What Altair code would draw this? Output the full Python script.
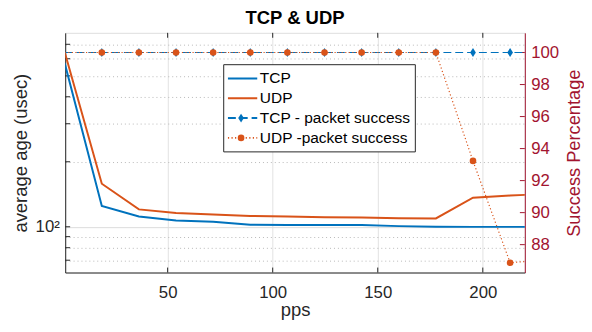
import altair as alt
import pandas as pd

# ---------------- data ----------------
pps = [1.0, 18.67, 36.33, 54.0, 71.67, 89.33, 107.0, 124.67, 142.33, 160.0, 177.67, 195.33, 213.0, 230.67]
tcp_age = [573, 124.7, 111.6, 107.0, 105.4, 102.1, 102.0, 102.0, 101.8, 100.7, 100.1, 99.9, 99.9, 99.9]
udp_age = [645, 158.3, 120.4, 115.9, 113.9, 112.3, 111.6, 110.7, 110.4, 109.6, 109.3, 136.3, 139.5, 142.0]
tcp_success = [100, 100, 100, 100, 100, 100, 100, 100, 100, 100, 100, 100, 100, 100]
udp_success = [100, 100, 100, 100, 100, 100, 100, 100, 100, 100, 100, 93.23, 86.87, 87.05]

x_ticks = [50, 100, 150, 200]
left_ticks = [70, 80, 90, 100, 200, 300, 400, 500, 600, 700]
right_ticks = [88, 90, 92, 94, 96, 98, 100]
legend_labels = ["TCP", "UDP", "TCP - packet success", "UDP -packet success"]
title_text = ["TCP & UDP"]

X_DOMAIN = [1.25, 220]
LEFT_DOMAIN = [61.4, 791]
RIGHT_DOMAIN = [86.26, 101.23]

# ---------------- styling ----------------
W, H = 466, 243
BLUE = "#0072BD"
ORANGE = "#D95319"
RED = "#A2142F"
AXC = "#262626"
FONT = "Liberation Sans"
DIAMOND = "M0,-1L0.65,0L0,1L-0.65,0Z"

df = pd.DataFrame({
    "pps": pps,
    "tcp_age": tcp_age,
    "udp_age": udp_age,
    "tcp_success": tcp_success,
    "udp_success": udp_success,
})
xt_df = pd.DataFrame({"v": x_ticks})
lt_df = pd.DataFrame({"v": left_ticks})
rt_df = pd.DataFrame({"v": right_ticks})
leg_df = pd.DataFrame({"label": legend_labels, "row": list(range(len(legend_labels)))})
title_df = pd.DataFrame({"t": title_text})

xs = alt.Scale(domain=X_DOMAIN, nice=False, zero=False)
ls = alt.Scale(type="log", domain=LEFT_DOMAIN, nice=False)
rs = alt.Scale(domain=RIGHT_DOMAIN, nice=False, zero=False)

x_axis = alt.Axis(values=x_ticks, title="pps", format="d", grid=True, gridColor="#e2e2e2",
                  ticks=False, domainColor=AXC, labelColor=AXC, labelFontSize=17,
                  labelPadding=12, titleFontSize=18.7, titleColor=AXC, titlePadding=1,
                  titleFontWeight="normal", labelFont=FONT, titleFont=FONT)
left_axis = alt.Axis(values=left_ticks, title="average age (usec)",
                     labelExpr="datum.value == 100 ? '10²' : ''",
                     grid=True,
                     gridColor={"condition": {"test": "datum.value == 100", "value": "#dcdcdc"}, "value": "#b8b8b8"},
                     gridDash={"condition": {"test": "datum.value == 100", "value": []}, "value": [1, 3]},
                     ticks=False, domainColor=AXC, labelColor=AXC, labelFontSize=17,
                     labelPadding=6, titleFontSize=18.7, titleColor=AXC, titlePadding=5,
                     titleFontWeight="normal", labelFont=FONT, titleFont=FONT)
right_axis = alt.Axis(orient="right", values=right_ticks, title="Success Percentage",
                      titleAngle=270, titleBaseline="top", grid=False, ticks=False,
                      domainColor=RED, labelColor=RED, labelFontSize=17, labelPadding=6,
                      titleFontSize=18.5, titleColor=RED, titlePadding=6,
                      titleFontWeight="normal", labelFont=FONT, titleFont=FONT)

X = alt.X("pps:Q", scale=xs, axis=x_axis)
in_range = (alt.datum.pps >= X_DOMAIN[0]) & (alt.datum.pps <= X_DOMAIN[1])

# ---------------- left (age) group ----------------
bottom_ticks = alt.Chart(xt_df).mark_rule(color=AXC, strokeWidth=1).encode(
    x=alt.X("v:Q", scale=xs, axis=x_axis), y=alt.value(H), y2=alt.value(H - 5))
top_ticks = alt.Chart(xt_df).mark_rule(color=AXC, strokeWidth=1).encode(
    x=alt.X("v:Q", scale=xs, axis=x_axis), y=alt.value(0), y2=alt.value(5))
left_tick_marks = alt.Chart(lt_df).mark_rule(color=AXC, strokeWidth=1).encode(
    y=alt.Y("v:Q", scale=ls, axis=left_axis), x=alt.value(0), x2=alt.value(5))
age_tcp = alt.Chart(df).mark_line(color=BLUE, strokeWidth=2, clip=True).encode(
    x=X, y=alt.Y("tcp_age:Q", scale=ls, axis=left_axis))
age_udp = alt.Chart(df).mark_line(color=ORANGE, strokeWidth=2, clip=True).encode(
    x=X, y=alt.Y("udp_age:Q", scale=ls, axis=left_axis))
left_group = alt.layer(left_tick_marks, bottom_ticks, top_ticks, age_tcp, age_udp)

# ---------------- right (success) group ----------------
succ_tcp_line = alt.Chart(df).mark_line(color=BLUE, strokeWidth=1.2, strokeDash=[8, 4], clip=True).encode(
    x=X, y=alt.Y("tcp_success:Q", scale=rs, axis=right_axis))
succ_tcp_pts = alt.Chart(df).transform_filter(in_range).mark_point(
    shape=DIAMOND, filled=True, color=BLUE, size=80, opacity=1).encode(
    x=X, y=alt.Y("tcp_success:Q", scale=rs, axis=right_axis))
succ_udp_line = alt.Chart(df).mark_line(color=ORANGE, strokeWidth=1.2, strokeDash=[1.2, 2.4], clip=True).encode(
    x=X, y=alt.Y("udp_success:Q", scale=rs, axis=right_axis))
succ_udp_pts = alt.Chart(df).transform_filter(in_range).mark_point(
    shape="circle", filled=True, color=ORANGE, size=45, opacity=1).encode(
    x=X, y=alt.Y("udp_success:Q", scale=rs, axis=right_axis))
right_tick_marks = alt.Chart(rt_df).mark_rule(color=RED, strokeWidth=1).encode(
    y=alt.Y("v:Q", scale=rs, axis=right_axis), x=alt.value(W - 5), x2=alt.value(W))
right_group = alt.layer(right_tick_marks, succ_tcp_line, succ_tcp_pts, succ_udp_line, succ_udp_pts)

# ---------------- legend + title ----------------
ly = alt.Y("row:Q", scale=alt.Scale(domain=[0, 3], range=[46.2, 106.5]), axis=None)
lcolor = alt.Color("label:N", scale=alt.Scale(domain=legend_labels, range=[BLUE, ORANGE, BLUE, ORANGE]), legend=None)
ldash = alt.StrokeDash("label:N", scale=alt.Scale(domain=legend_labels, range=[[1, 0], [1, 0], [8, 4], [1.2, 2.4]]), legend=None)
lwidth = alt.StrokeWidth("label:N", scale=alt.Scale(domain=legend_labels, range=[2, 2, 1.2, 1.2]), legend=None)

leg_box = alt.Chart(pd.DataFrame({"a": [0]})).mark_rect(fill="white", stroke=AXC, strokeWidth=1).encode(
    x=alt.value(160.7), x2=alt.value(355), y=alt.value(32.3), y2=alt.value(120.7))
leg_lines = alt.Chart(leg_df).mark_rule().encode(
    x=alt.value(165), x2=alt.value(194.7), y=ly, color=lcolor, strokeDash=ldash, strokeWidth=lwidth)
leg_pts = alt.Chart(leg_df).transform_filter(alt.datum.row >= 2).mark_point(filled=True, opacity=1).encode(
    x=alt.value(178.3), y=ly, color=lcolor,
    shape=alt.Shape("label:N", scale=alt.Scale(domain=legend_labels[2:], range=[DIAMOND, "circle"]), legend=None),
    size=alt.Size("label:N", scale=alt.Scale(domain=legend_labels[2:], range=[80, 45]), legend=None))
leg_text = alt.Chart(leg_df).mark_text(align="left", baseline="middle", fontSize=15.7, font=FONT, color="black").encode(
    x=alt.value(197.3), y=ly, text="label:N")
title_mark = alt.Chart(title_df).mark_text(align="center", baseline="alphabetic", fontSize=18.7,
                                           fontWeight="bold", font=FONT, color="black").encode(
    x=alt.value(W / 2), y=alt.value(-9.3), text="t:N")
legend_group = alt.layer(leg_box, leg_lines, leg_pts, leg_text, title_mark)

chart = alt.layer(left_group, right_group, legend_group).resolve_scale(
    y="independent", color="independent", strokeDash="independent", strokeWidth="independent"
).properties(
    width=W, height=H,
    padding={"left": 58, "top": 23, "right": 60, "bottom": 48},
    autosize=alt.AutoSizeParams(type="none"),
).configure_view(stroke=AXC, strokeWidth=1).configure(background="white", font=FONT)

chart.save("out.html", embed_options={"renderer": "svg", "actions": False})
